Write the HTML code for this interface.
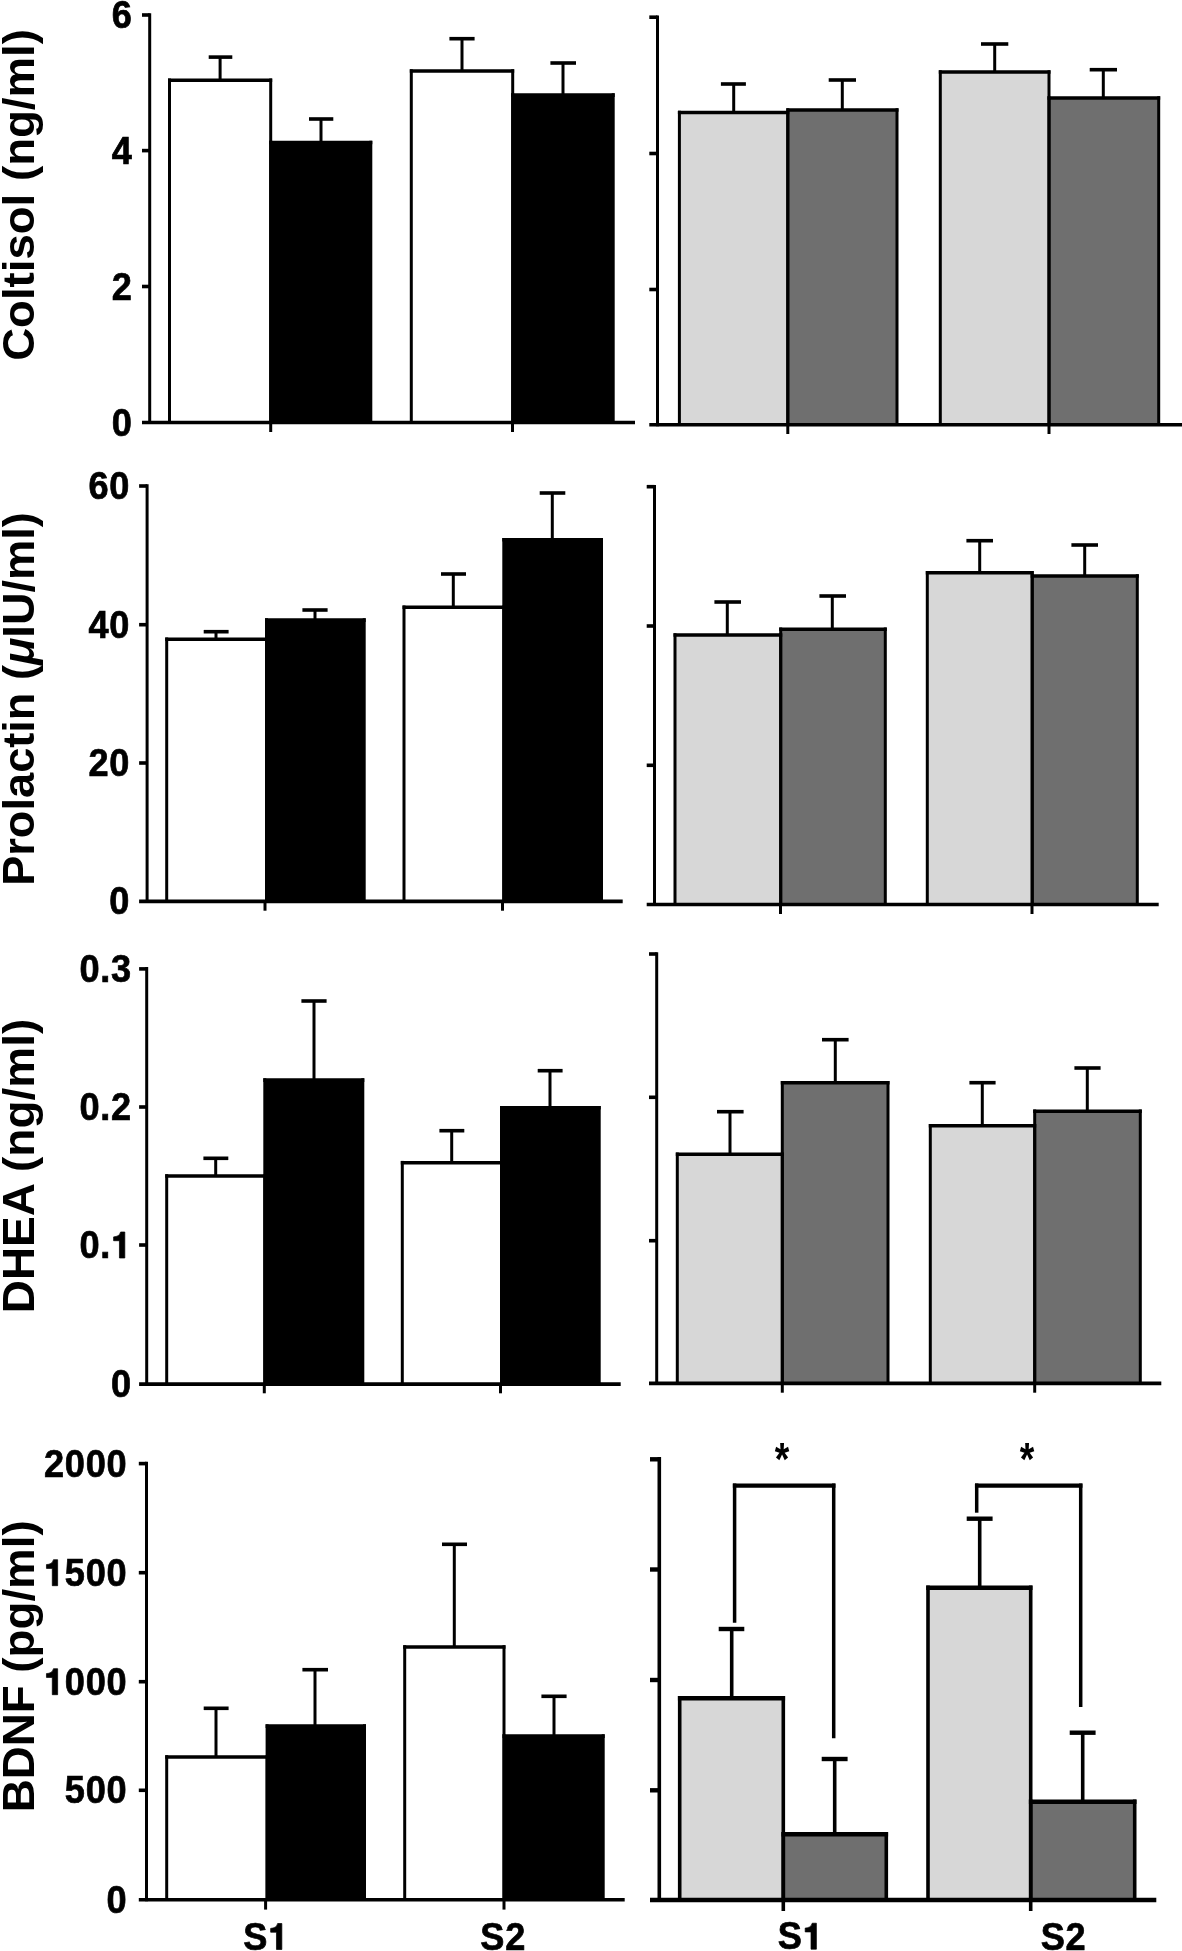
<!DOCTYPE html>
<html><head><meta charset="utf-8"><title>Figure</title>
<style>
html,body{margin:0;padding:0;background:#fff;}
body{width:1182px;height:1951px;overflow:hidden;}
svg{display:block;will-change:transform;}
text{font-family:"Liberation Sans",sans-serif;font-weight:bold;fill:#000;}
path{stroke:#000;fill:none;}
</style></head><body>
<svg width="1182" height="1951" viewBox="0 0 1182 1951">
<rect width="1182" height="1951" fill="#fff"/>
<rect x="169.50" y="80.30" width="101.20" height="342.20" fill="#fff" stroke="none"/>
<rect x="270.70" y="142.50" width="100.10" height="280.00" fill="#000" stroke="none"/>
<rect x="411.30" y="71.00" width="101.40" height="351.50" fill="#fff" stroke="none"/>
<rect x="512.70" y="95.10" width="100.50" height="327.40" fill="#000" stroke="none"/>
<path d="M169.50 78.50L169.50 422.50" stroke-width="3.0"/>
<path d="M270.70 78.50L270.70 422.50" stroke-width="3.0"/>
<path d="M168.00 80.30L272.20 80.30" stroke-width="3.6"/>
<path d="M270.70 140.70L270.70 422.50" stroke-width="3.0"/>
<path d="M370.80 140.70L370.80 422.50" stroke-width="3.0"/>
<path d="M269.20 142.50L372.30 142.50" stroke-width="3.6"/>
<path d="M411.30 69.20L411.30 422.50" stroke-width="3.0"/>
<path d="M512.70 69.20L512.70 422.50" stroke-width="3.0"/>
<path d="M409.80 71.00L514.20 71.00" stroke-width="3.6"/>
<path d="M512.70 93.30L512.70 422.50" stroke-width="3.0"/>
<path d="M613.20 93.30L613.20 422.50" stroke-width="3.0"/>
<path d="M511.20 95.10L614.70 95.10" stroke-width="3.6"/>
<path d="M220.10 57.10L220.10 80.30" stroke-width="3.0"/>
<path d="M208.70 57.10L232.30 57.10" stroke-width="3.6"/>
<path d="M321.00 119.00L321.00 142.50" stroke-width="3.0"/>
<path d="M309.00 119.00L333.30 119.00" stroke-width="3.6"/>
<path d="M462.00 38.70L462.00 71.00" stroke-width="3.0"/>
<path d="M449.40 38.70L474.60 38.70" stroke-width="3.6"/>
<path d="M563.00 63.00L563.00 95.10" stroke-width="3.0"/>
<path d="M550.40 63.00L576.00 63.00" stroke-width="3.6"/>
<path d="M149.70 13.20L149.70 424.00" stroke-width="3.0"/>
<path d="M142.00 15.00L149.70 15.00" stroke-width="3.6"/>
<path d="M142.00 150.60L149.70 150.60" stroke-width="3.6"/>
<path d="M142.00 286.50L149.70 286.50" stroke-width="3.6"/>
<path d="M142.00 422.50L635.00 422.50" stroke-width="3.6"/>
<path d="M270.70 422.50L270.70 432.00" stroke-width="3.0"/>
<path d="M512.50 422.50L512.50 432.00" stroke-width="3.0"/>
<text transform="translate(111.82,28.00) scale(0.95,1)" font-size="38.1" stroke="#000" stroke-width="0.7">6</text>
<text transform="translate(111.82,163.60) scale(0.95,1)" font-size="38.1" stroke="#000" stroke-width="0.7">4</text>
<text transform="translate(111.82,299.50) scale(0.95,1)" font-size="38.1" stroke="#000" stroke-width="0.7">2</text>
<text transform="translate(111.82,435.50) scale(0.95,1)" font-size="38.1" stroke="#000" stroke-width="0.7">0</text>
<rect x="679.40" y="112.50" width="108.40" height="312.20" fill="#d7d7d7" stroke="none"/>
<rect x="787.80" y="110.00" width="109.20" height="314.70" fill="#6f6f6f" stroke="none"/>
<rect x="940.30" y="72.00" width="108.70" height="352.70" fill="#d7d7d7" stroke="none"/>
<rect x="1049.00" y="98.00" width="109.70" height="326.70" fill="#6f6f6f" stroke="none"/>
<path d="M679.40 110.70L679.40 424.70" stroke-width="3.0"/>
<path d="M787.80 110.70L787.80 424.70" stroke-width="3.0"/>
<path d="M677.90 112.50L789.30 112.50" stroke-width="3.6"/>
<path d="M787.80 108.20L787.80 424.70" stroke-width="3.0"/>
<path d="M897.00 108.20L897.00 424.70" stroke-width="3.0"/>
<path d="M786.30 110.00L898.50 110.00" stroke-width="3.6"/>
<path d="M940.30 70.20L940.30 424.70" stroke-width="3.0"/>
<path d="M1049.00 70.20L1049.00 424.70" stroke-width="3.0"/>
<path d="M938.80 72.00L1050.50 72.00" stroke-width="3.6"/>
<path d="M1049.00 96.20L1049.00 424.70" stroke-width="3.0"/>
<path d="M1158.70 96.20L1158.70 424.70" stroke-width="3.0"/>
<path d="M1047.50 98.00L1160.20 98.00" stroke-width="3.6"/>
<path d="M733.70 84.00L733.70 112.50" stroke-width="3.0"/>
<path d="M720.90 84.00L745.90 84.00" stroke-width="3.6"/>
<path d="M842.30 80.00L842.30 110.00" stroke-width="3.0"/>
<path d="M828.70 80.00L856.00 80.00" stroke-width="3.6"/>
<path d="M994.70 44.00L994.70 72.00" stroke-width="3.0"/>
<path d="M981.00 44.00L1008.30 44.00" stroke-width="3.6"/>
<path d="M1103.30 69.70L1103.30 98.00" stroke-width="3.0"/>
<path d="M1089.70 69.70L1117.00 69.70" stroke-width="3.6"/>
<path d="M657.50 15.40L657.50 426.20" stroke-width="3.0"/>
<path d="M649.30 17.20L657.50 17.20" stroke-width="3.6"/>
<path d="M649.30 153.50L657.50 153.50" stroke-width="3.6"/>
<path d="M649.30 289.50L657.50 289.50" stroke-width="3.6"/>
<path d="M649.30 424.70L1182.00 424.70" stroke-width="3.6"/>
<path d="M787.80 424.70L787.80 434.00" stroke-width="3.0"/>
<path d="M1049.00 424.70L1049.00 434.00" stroke-width="3.0"/>
<rect x="166.70" y="639.30" width="99.80" height="262.10" fill="#fff" stroke="none"/>
<rect x="266.50" y="620.10" width="97.70" height="281.30" fill="#000" stroke="none"/>
<rect x="404.00" y="607.30" width="99.80" height="294.10" fill="#fff" stroke="none"/>
<rect x="503.80" y="539.80" width="97.70" height="361.60" fill="#000" stroke="none"/>
<path d="M166.70 637.50L166.70 901.40" stroke-width="3.0"/>
<path d="M266.50 637.50L266.50 901.40" stroke-width="3.0"/>
<path d="M165.20 639.30L268.00 639.30" stroke-width="3.6"/>
<path d="M266.50 618.30L266.50 901.40" stroke-width="3.0"/>
<path d="M364.20 618.30L364.20 901.40" stroke-width="3.0"/>
<path d="M265.00 620.10L365.70 620.10" stroke-width="3.6"/>
<path d="M404.00 605.50L404.00 901.40" stroke-width="3.0"/>
<path d="M503.80 605.50L503.80 901.40" stroke-width="3.0"/>
<path d="M402.50 607.30L505.30 607.30" stroke-width="3.6"/>
<path d="M503.80 538.00L503.80 901.40" stroke-width="3.0"/>
<path d="M601.50 538.00L601.50 901.40" stroke-width="3.0"/>
<path d="M502.30 539.80L603.00 539.80" stroke-width="3.6"/>
<path d="M216.00 631.70L216.00 639.30" stroke-width="3.0"/>
<path d="M203.70 631.70L228.60 631.70" stroke-width="3.6"/>
<path d="M315.00 610.00L315.00 620.10" stroke-width="3.0"/>
<path d="M302.40 610.00L327.60 610.00" stroke-width="3.6"/>
<path d="M453.30 574.00L453.30 607.30" stroke-width="3.0"/>
<path d="M441.00 574.00L466.00 574.00" stroke-width="3.6"/>
<path d="M552.30 493.00L552.30 539.80" stroke-width="3.0"/>
<path d="M539.70 493.00L565.30 493.00" stroke-width="3.6"/>
<path d="M147.10 484.20L147.10 902.90" stroke-width="3.0"/>
<path d="M139.10 486.00L147.10 486.00" stroke-width="3.6"/>
<path d="M139.10 624.70L147.10 624.70" stroke-width="3.6"/>
<path d="M139.10 763.00L147.10 763.00" stroke-width="3.6"/>
<path d="M139.10 901.40L622.70 901.40" stroke-width="3.6"/>
<path d="M265.00 901.40L265.00 910.70" stroke-width="3.0"/>
<path d="M502.50 901.40L502.50 910.70" stroke-width="3.0"/>
<text transform="translate(88.43,499.00) scale(0.95,1)" font-size="38.1" stroke="#000" stroke-width="0.7">6</text>
<text transform="translate(109.32,499.00) scale(0.95,1)" font-size="38.1" stroke="#000" stroke-width="0.7">0</text>
<text transform="translate(88.43,637.70) scale(0.95,1)" font-size="38.1" stroke="#000" stroke-width="0.7">4</text>
<text transform="translate(109.32,637.70) scale(0.95,1)" font-size="38.1" stroke="#000" stroke-width="0.7">0</text>
<text transform="translate(88.43,776.00) scale(0.95,1)" font-size="38.1" stroke="#000" stroke-width="0.7">2</text>
<text transform="translate(109.32,776.00) scale(0.95,1)" font-size="38.1" stroke="#000" stroke-width="0.7">0</text>
<text transform="translate(109.32,914.40) scale(0.95,1)" font-size="38.1" stroke="#000" stroke-width="0.7">0</text>
<rect x="675.00" y="635.00" width="105.70" height="269.50" fill="#d7d7d7" stroke="none"/>
<rect x="780.70" y="629.30" width="104.60" height="275.20" fill="#6f6f6f" stroke="none"/>
<rect x="927.30" y="572.70" width="104.90" height="331.80" fill="#d7d7d7" stroke="none"/>
<rect x="1032.20" y="576.00" width="105.10" height="328.50" fill="#6f6f6f" stroke="none"/>
<path d="M675.00 633.20L675.00 904.50" stroke-width="3.0"/>
<path d="M780.70 633.20L780.70 904.50" stroke-width="3.0"/>
<path d="M673.50 635.00L782.20 635.00" stroke-width="3.6"/>
<path d="M780.70 627.50L780.70 904.50" stroke-width="3.0"/>
<path d="M885.30 627.50L885.30 904.50" stroke-width="3.0"/>
<path d="M779.20 629.30L886.80 629.30" stroke-width="3.6"/>
<path d="M927.30 570.90L927.30 904.50" stroke-width="3.0"/>
<path d="M1032.20 570.90L1032.20 904.50" stroke-width="3.0"/>
<path d="M925.80 572.70L1033.70 572.70" stroke-width="3.6"/>
<path d="M1032.20 574.20L1032.20 904.50" stroke-width="3.0"/>
<path d="M1137.30 574.20L1137.30 904.50" stroke-width="3.0"/>
<path d="M1030.70 576.00L1138.80 576.00" stroke-width="3.6"/>
<path d="M727.30 602.00L727.30 635.00" stroke-width="3.0"/>
<path d="M714.40 602.00L741.00 602.00" stroke-width="3.6"/>
<path d="M832.30 596.00L832.30 629.30" stroke-width="3.0"/>
<path d="M819.40 596.00L846.00 596.00" stroke-width="3.6"/>
<path d="M979.70 540.70L979.70 572.70" stroke-width="3.0"/>
<path d="M966.40 540.70L993.00 540.70" stroke-width="3.6"/>
<path d="M1084.70 545.00L1084.70 576.00" stroke-width="3.0"/>
<path d="M1071.40 545.00L1098.00 545.00" stroke-width="3.6"/>
<path d="M654.50 484.90L654.50 906.00" stroke-width="3.0"/>
<path d="M646.70 486.70L654.50 486.70" stroke-width="3.6"/>
<path d="M646.70 626.00L654.50 626.00" stroke-width="3.6"/>
<path d="M646.70 765.30L654.50 765.30" stroke-width="3.6"/>
<path d="M646.70 904.50L1158.70 904.50" stroke-width="3.6"/>
<path d="M780.50 904.50L780.50 914.00" stroke-width="3.0"/>
<path d="M1032.00 904.50L1032.00 914.00" stroke-width="3.0"/>
<rect x="166.70" y="1176.00" width="98.10" height="208.10" fill="#fff" stroke="none"/>
<rect x="264.80" y="1080.10" width="98.00" height="304.00" fill="#000" stroke="none"/>
<rect x="402.30" y="1162.70" width="99.20" height="221.40" fill="#fff" stroke="none"/>
<rect x="501.50" y="1107.80" width="97.70" height="276.30" fill="#000" stroke="none"/>
<path d="M166.70 1174.20L166.70 1384.10" stroke-width="3.0"/>
<path d="M264.80 1174.20L264.80 1384.10" stroke-width="3.0"/>
<path d="M165.20 1176.00L266.30 1176.00" stroke-width="3.6"/>
<path d="M264.80 1078.30L264.80 1384.10" stroke-width="3.0"/>
<path d="M362.80 1078.30L362.80 1384.10" stroke-width="3.0"/>
<path d="M263.30 1080.10L364.30 1080.10" stroke-width="3.6"/>
<path d="M402.30 1160.90L402.30 1384.10" stroke-width="3.0"/>
<path d="M501.50 1160.90L501.50 1384.10" stroke-width="3.0"/>
<path d="M400.80 1162.70L503.00 1162.70" stroke-width="3.6"/>
<path d="M501.50 1106.00L501.50 1384.10" stroke-width="3.0"/>
<path d="M599.20 1106.00L599.20 1384.10" stroke-width="3.0"/>
<path d="M500.00 1107.80L600.70 1107.80" stroke-width="3.6"/>
<path d="M215.70 1158.30L215.70 1176.00" stroke-width="3.0"/>
<path d="M203.40 1158.30L228.30 1158.30" stroke-width="3.6"/>
<path d="M314.00 1001.00L314.00 1080.10" stroke-width="3.0"/>
<path d="M301.40 1001.00L326.60 1001.00" stroke-width="3.6"/>
<path d="M451.70 1130.70L451.70 1162.70" stroke-width="3.0"/>
<path d="M439.40 1130.70L464.30 1130.70" stroke-width="3.6"/>
<path d="M550.00 1070.70L550.00 1107.80" stroke-width="3.0"/>
<path d="M537.70 1070.70L562.60 1070.70" stroke-width="3.6"/>
<path d="M146.70 967.10L146.70 1385.60" stroke-width="3.0"/>
<path d="M139.10 968.90L146.70 968.90" stroke-width="3.6"/>
<path d="M139.10 1107.00L146.70 1107.00" stroke-width="3.6"/>
<path d="M139.10 1245.00L146.70 1245.00" stroke-width="3.6"/>
<path d="M139.10 1384.10L620.70 1384.10" stroke-width="3.6"/>
<path d="M264.30 1384.10L264.30 1393.30" stroke-width="3.0"/>
<path d="M500.50 1384.10L500.50 1393.30" stroke-width="3.0"/>
<text transform="translate(79.41,981.90) scale(0.95,1)" font-size="38.1" stroke="#000" stroke-width="0.7">0</text>
<text transform="translate(100.29,981.90) scale(0.95,1)" font-size="38.1" stroke="#000" stroke-width="0.7">.</text>
<text transform="translate(111.12,981.90) scale(0.95,1)" font-size="38.1" stroke="#000" stroke-width="0.7">3</text>
<text transform="translate(79.41,1120.00) scale(0.95,1)" font-size="38.1" stroke="#000" stroke-width="0.7">0</text>
<text transform="translate(100.29,1120.00) scale(0.95,1)" font-size="38.1" stroke="#000" stroke-width="0.7">.</text>
<text transform="translate(111.12,1120.00) scale(0.95,1)" font-size="38.1" stroke="#000" stroke-width="0.7">2</text>
<text transform="translate(79.41,1258.00) scale(0.95,1)" font-size="38.1" stroke="#000" stroke-width="0.7">0</text>
<text transform="translate(100.29,1258.00) scale(0.95,1)" font-size="38.1" stroke="#000" stroke-width="0.7">.</text>
<path transform="translate(111.12,1258.00) scale(0.03619,-0.0366)" d="M378 0L230 0L230 472L69 472L69 577C160 580 245 620 262 710L378 710Z" style="fill:#000;stroke:#000" stroke-width="0.7" vector-effect="non-scaling-stroke"/>
<text transform="translate(111.12,1397.10) scale(0.95,1)" font-size="38.1" stroke="#000" stroke-width="0.7">0</text>
<rect x="677.30" y="1154.30" width="105.00" height="229.10" fill="#d7d7d7" stroke="none"/>
<rect x="782.30" y="1082.70" width="105.70" height="300.70" fill="#6f6f6f" stroke="none"/>
<rect x="930.30" y="1125.70" width="104.40" height="257.70" fill="#d7d7d7" stroke="none"/>
<rect x="1034.70" y="1111.30" width="105.60" height="272.10" fill="#6f6f6f" stroke="none"/>
<path d="M677.30 1152.50L677.30 1383.40" stroke-width="3.0"/>
<path d="M782.30 1152.50L782.30 1383.40" stroke-width="3.0"/>
<path d="M675.80 1154.30L783.80 1154.30" stroke-width="3.6"/>
<path d="M782.30 1080.90L782.30 1383.40" stroke-width="3.0"/>
<path d="M888.00 1080.90L888.00 1383.40" stroke-width="3.0"/>
<path d="M780.80 1082.70L889.50 1082.70" stroke-width="3.6"/>
<path d="M930.30 1123.90L930.30 1383.40" stroke-width="3.0"/>
<path d="M1034.70 1123.90L1034.70 1383.40" stroke-width="3.0"/>
<path d="M928.80 1125.70L1036.20 1125.70" stroke-width="3.6"/>
<path d="M1034.70 1109.50L1034.70 1383.40" stroke-width="3.0"/>
<path d="M1140.30 1109.50L1140.30 1383.40" stroke-width="3.0"/>
<path d="M1033.20 1111.30L1141.80 1111.30" stroke-width="3.6"/>
<path d="M730.00 1111.70L730.00 1154.30" stroke-width="3.0"/>
<path d="M717.00 1111.70L743.60 1111.70" stroke-width="3.6"/>
<path d="M835.30 1039.70L835.30 1082.70" stroke-width="3.0"/>
<path d="M822.00 1039.70L848.60 1039.70" stroke-width="3.6"/>
<path d="M982.30 1082.70L982.30 1125.70" stroke-width="3.0"/>
<path d="M969.40 1082.70L995.60 1082.70" stroke-width="3.6"/>
<path d="M1087.30 1068.00L1087.30 1111.30" stroke-width="3.0"/>
<path d="M1074.40 1068.00L1100.60 1068.00" stroke-width="3.6"/>
<path d="M656.70 952.20L656.70 1384.90" stroke-width="3.0"/>
<path d="M649.00 954.00L656.70 954.00" stroke-width="3.6"/>
<path d="M649.00 1097.30L656.70 1097.30" stroke-width="3.6"/>
<path d="M649.00 1240.70L656.70 1240.70" stroke-width="3.6"/>
<path d="M649.00 1383.40L1161.30 1383.40" stroke-width="3.6"/>
<path d="M782.30 1383.40L782.30 1392.70" stroke-width="3.0"/>
<path d="M1034.70 1383.40L1034.70 1392.70" stroke-width="3.0"/>
<rect x="166.70" y="1757.00" width="100.40" height="142.70" fill="#fff" stroke="none"/>
<rect x="267.10" y="1726.10" width="97.40" height="173.60" fill="#000" stroke="none"/>
<rect x="404.70" y="1647.00" width="99.30" height="252.70" fill="#fff" stroke="none"/>
<rect x="504.00" y="1736.10" width="99.20" height="163.60" fill="#000" stroke="none"/>
<path d="M166.70 1755.20L166.70 1899.70" stroke-width="3.0"/>
<path d="M267.10 1755.20L267.10 1899.70" stroke-width="3.0"/>
<path d="M165.20 1757.00L268.60 1757.00" stroke-width="3.6"/>
<path d="M267.10 1724.30L267.10 1899.70" stroke-width="3.0"/>
<path d="M364.50 1724.30L364.50 1899.70" stroke-width="3.0"/>
<path d="M265.60 1726.10L366.00 1726.10" stroke-width="3.6"/>
<path d="M404.70 1645.20L404.70 1899.70" stroke-width="3.0"/>
<path d="M504.00 1645.20L504.00 1899.70" stroke-width="3.0"/>
<path d="M403.20 1647.00L505.50 1647.00" stroke-width="3.6"/>
<path d="M504.00 1734.30L504.00 1899.70" stroke-width="3.0"/>
<path d="M603.20 1734.30L603.20 1899.70" stroke-width="3.0"/>
<path d="M502.50 1736.10L604.70 1736.10" stroke-width="3.6"/>
<path d="M216.00 1708.30L216.00 1757.00" stroke-width="3.0"/>
<path d="M203.70 1708.30L228.60 1708.30" stroke-width="3.6"/>
<path d="M315.00 1669.70L315.00 1726.10" stroke-width="3.0"/>
<path d="M302.40 1669.70L328.00 1669.70" stroke-width="3.6"/>
<path d="M454.30 1544.30L454.30 1647.00" stroke-width="3.0"/>
<path d="M442.00 1544.30L467.00 1544.30" stroke-width="3.6"/>
<path d="M554.00 1696.30L554.00 1736.10" stroke-width="3.0"/>
<path d="M541.40 1696.30L566.60 1696.30" stroke-width="3.6"/>
<path d="M146.50 1461.80L146.50 1901.20" stroke-width="3.0"/>
<path d="M138.80 1463.60L146.50 1463.60" stroke-width="3.6"/>
<path d="M138.80 1572.70L146.50 1572.70" stroke-width="3.6"/>
<path d="M138.80 1681.70L146.50 1681.70" stroke-width="3.6"/>
<path d="M138.80 1790.30L146.50 1790.30" stroke-width="3.6"/>
<path d="M138.80 1899.70L624.70 1899.70" stroke-width="3.6"/>
<path d="M265.60 1899.70L265.60 1909.60" stroke-width="3.0"/>
<path d="M504.00 1899.70L504.00 1909.60" stroke-width="3.0"/>
<text transform="translate(43.96,1476.60) scale(0.95,1)" font-size="38.1" stroke="#000" stroke-width="0.7">2</text>
<text transform="translate(64.85,1476.60) scale(0.95,1)" font-size="38.1" stroke="#000" stroke-width="0.7">0</text>
<text transform="translate(85.73,1476.60) scale(0.95,1)" font-size="38.1" stroke="#000" stroke-width="0.7">0</text>
<text transform="translate(106.62,1476.60) scale(0.95,1)" font-size="38.1" stroke="#000" stroke-width="0.7">0</text>
<path transform="translate(43.96,1585.70) scale(0.03619,-0.0366)" d="M378 0L230 0L230 472L69 472L69 577C160 580 245 620 262 710L378 710Z" style="fill:#000;stroke:#000" stroke-width="0.7" vector-effect="non-scaling-stroke"/>
<text transform="translate(64.85,1585.70) scale(0.95,1)" font-size="38.1" stroke="#000" stroke-width="0.7">5</text>
<text transform="translate(85.73,1585.70) scale(0.95,1)" font-size="38.1" stroke="#000" stroke-width="0.7">0</text>
<text transform="translate(106.62,1585.70) scale(0.95,1)" font-size="38.1" stroke="#000" stroke-width="0.7">0</text>
<path transform="translate(43.96,1694.70) scale(0.03619,-0.0366)" d="M378 0L230 0L230 472L69 472L69 577C160 580 245 620 262 710L378 710Z" style="fill:#000;stroke:#000" stroke-width="0.7" vector-effect="non-scaling-stroke"/>
<text transform="translate(64.85,1694.70) scale(0.95,1)" font-size="38.1" stroke="#000" stroke-width="0.7">0</text>
<text transform="translate(85.73,1694.70) scale(0.95,1)" font-size="38.1" stroke="#000" stroke-width="0.7">0</text>
<text transform="translate(106.62,1694.70) scale(0.95,1)" font-size="38.1" stroke="#000" stroke-width="0.7">0</text>
<text transform="translate(64.85,1803.30) scale(0.95,1)" font-size="38.1" stroke="#000" stroke-width="0.7">5</text>
<text transform="translate(85.73,1803.30) scale(0.95,1)" font-size="38.1" stroke="#000" stroke-width="0.7">0</text>
<text transform="translate(106.62,1803.30) scale(0.95,1)" font-size="38.1" stroke="#000" stroke-width="0.7">0</text>
<text transform="translate(106.62,1912.70) scale(0.95,1)" font-size="38.1" stroke="#000" stroke-width="0.7">0</text>
<rect x="679.70" y="1698.30" width="103.60" height="201.70" fill="#d7d7d7" stroke="none"/>
<rect x="783.30" y="1834.30" width="103.00" height="65.70" fill="#6f6f6f" stroke="none"/>
<rect x="928.00" y="1587.70" width="102.70" height="312.30" fill="#d7d7d7" stroke="none"/>
<rect x="1030.70" y="1801.70" width="104.00" height="98.30" fill="#6f6f6f" stroke="none"/>
<path d="M679.70 1696.10L679.70 1900.00" stroke-width="3.6"/>
<path d="M783.30 1696.10L783.30 1900.00" stroke-width="3.6"/>
<path d="M677.90 1698.30L785.10 1698.30" stroke-width="4.4"/>
<path d="M783.30 1832.10L783.30 1900.00" stroke-width="3.6"/>
<path d="M886.30 1832.10L886.30 1900.00" stroke-width="3.6"/>
<path d="M781.50 1834.30L888.10 1834.30" stroke-width="4.4"/>
<path d="M928.00 1585.50L928.00 1900.00" stroke-width="3.6"/>
<path d="M1030.70 1585.50L1030.70 1900.00" stroke-width="3.6"/>
<path d="M926.20 1587.70L1032.50 1587.70" stroke-width="4.4"/>
<path d="M1030.70 1799.50L1030.70 1900.00" stroke-width="3.6"/>
<path d="M1134.70 1799.50L1134.70 1900.00" stroke-width="3.6"/>
<path d="M1028.90 1801.70L1136.50 1801.70" stroke-width="4.4"/>
<path d="M731.70 1629.00L731.70 1698.30" stroke-width="3.6"/>
<path d="M718.70 1629.00L744.30 1629.00" stroke-width="4.4"/>
<path d="M834.70 1759.00L834.70 1834.30" stroke-width="3.6"/>
<path d="M821.70 1759.00L847.60 1759.00" stroke-width="4.4"/>
<path d="M979.70 1518.70L979.70 1587.70" stroke-width="3.6"/>
<path d="M966.70 1518.70L992.60 1518.70" stroke-width="4.4"/>
<path d="M1082.70 1732.70L1082.70 1801.70" stroke-width="3.6"/>
<path d="M1069.70 1732.70L1095.60 1732.70" stroke-width="4.4"/>
<path d="M659.30 1457.10L659.30 1901.90" stroke-width="3.6"/>
<path d="M650.00 1459.30L659.30 1459.30" stroke-width="4.4"/>
<path d="M650.00 1569.50L659.30 1569.50" stroke-width="4.4"/>
<path d="M650.00 1680.00L659.30 1680.00" stroke-width="4.4"/>
<path d="M650.00 1790.30L659.30 1790.30" stroke-width="4.4"/>
<path d="M650.00 1900.00L1156.30 1900.00" stroke-width="4.4"/>
<path d="M783.30 1900.00L783.30 1911.00" stroke-width="3.6"/>
<path d="M1030.70 1900.00L1030.70 1911.00" stroke-width="3.6"/>
<path d="M734.60 1622.70L734.60 1483.45" stroke-width="3.5"/>
<path d="M833.70 1738.30L833.70 1483.45" stroke-width="3.5"/>
<path d="M732.85 1485.60L835.45 1485.60" stroke-width="4.3"/>
<path d="M976.70 1512.70L976.70 1483.45" stroke-width="3.5"/>
<path d="M1080.70 1707.00L1080.70 1483.45" stroke-width="3.5"/>
<path d="M974.95 1485.60L1082.45 1485.60" stroke-width="4.3"/>
<text transform="translate(781.9,1451.7) scale(0.89,1.10)" font-size="42" text-anchor="middle" y="21.5">*</text>
<text transform="translate(1027.1,1451.7) scale(0.89,1.10)" font-size="42" text-anchor="middle" y="21.5">*</text>
<text transform="translate(243.25,1949.50) scale(0.95,1)" font-size="38.1" stroke="#000" stroke-width="0.7">S</text>
<path transform="translate(268.15,1949.50) scale(0.03619,-0.0366)" d="M378 0L230 0L230 472L69 472L69 577C160 580 245 620 262 710L378 710Z" style="fill:#000;stroke:#000" stroke-width="0.7" vector-effect="non-scaling-stroke"/>
<text transform="translate(480.30,1949.80) scale(0.95,1)" font-size="38.1" stroke="#000" stroke-width="0.7">S</text>
<text transform="translate(505.20,1949.80) scale(0.95,1)" font-size="38.1" stroke="#000" stroke-width="0.7">2</text>
<text transform="translate(777.80,1949.20) scale(0.95,1)" font-size="38.1" stroke="#000" stroke-width="0.7">S</text>
<path transform="translate(802.70,1949.20) scale(0.03619,-0.0366)" d="M378 0L230 0L230 472L69 472L69 577C160 580 245 620 262 710L378 710Z" style="fill:#000;stroke:#000" stroke-width="0.7" vector-effect="non-scaling-stroke"/>
<text transform="translate(1040.70,1949.70) scale(0.95,1)" font-size="38.1" stroke="#000" stroke-width="0.7">S</text>
<text transform="translate(1065.60,1949.70) scale(0.95,1)" font-size="38.1" stroke="#000" stroke-width="0.7">2</text>
<text transform="translate(34,195.0) rotate(-90) scale(1,0.975)" font-size="45.6" text-anchor="middle">Coltisol (ng/ml)</text>
<text transform="translate(34,699) rotate(-90) scale(1,0.975)" font-size="45.2" text-anchor="middle">Prolactin (<tspan font-style="italic">μ</tspan>IU/ml)</text>
<text transform="translate(34,1166) rotate(-90) scale(1,0.975)" font-size="46" text-anchor="middle">DHEA (ng/ml)</text>
<text transform="translate(34,1666.3) rotate(-90) scale(1,0.975)" font-size="45.7" text-anchor="middle">BDNF (pg/ml)</text>
</svg>
</body></html>
